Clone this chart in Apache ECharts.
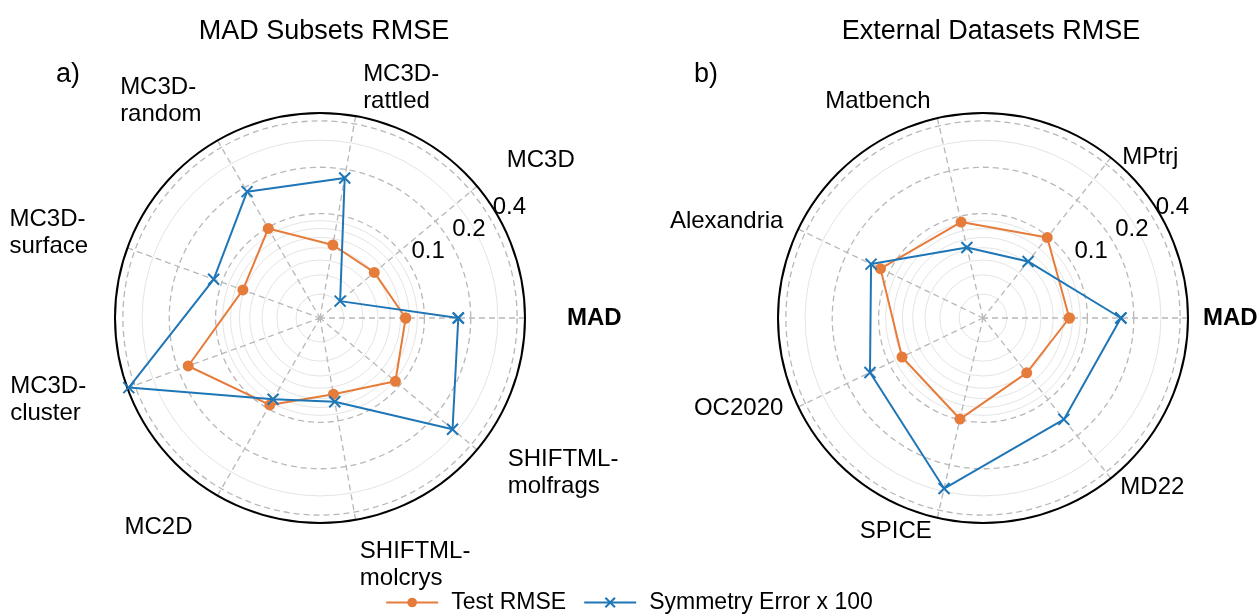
<!DOCTYPE html>
<html><head><meta charset="utf-8">
<script src="https://cdn.jsdelivr.net/npm/echarts@6/dist/echarts.min.js"></script>
<style>html,body{margin:0;padding:0;background:#fff}#c{width:1258px;height:616px}</style>
</head><body><div id="c"></div>
<script>
// ---------- data ----------
const catsA = ['MAD', 'MC3D', 'MC3D-rattled', 'MC3D-random', 'MC3D-surface', 'MC3D-cluster', 'MC2D', 'SHIFTML-molcrys', 'SHIFTML-molfrags'];
const rmseA = [0.0756, 0.0606, 0.0636, 0.0985, 0.0716, 0.171, 0.0942, 0.0668, 0.0915];
const symA  = [0.166, 0.0311, 0.176, 0.186, 0.114, 0.44, 0.0853, 0.0748, 0.279];
const catsB = ['MAD', 'MPtrj', 'Matbench', 'Alexandria', 'OC2020', 'SPICE', 'MD22'];
const rmseB = [0.0763, 0.098, 0.0915, 0.115, 0.0805, 0.0989, 0.0599];
const symB  = [0.165, 0.0619, 0.0619, 0.1345, 0.137, 0.287, 0.146];
const majorTicks = [0.1, 0.2, 0.4];
const minorTicks = [0.03, 0.04, 0.05, 0.06, 0.07, 0.08, 0.09, 0.3];
const seriesNames = ['Test RMSE', 'Symmetry Error x 100'];
const titles = ['MAD Subsets RMSE', 'External Datasets RMSE'];
const panelLetters = ['a)', 'b)'];

// ---------- layout / style ----------
const FONT = 'Liberation Sans';
const ORANGE = '#e67c3b';
const BLUE = '#1f76b6';
const GRID = '#b8b8b8';
const MINOR = '#e4e4e4';
const VMIN = 0.021, VMAX = 0.45;
const CY = 318, R = 205;
const FS = 24;
// category label paddings [top, right, bottom, left]
const padsA = [[0,0,0,62],[0,0,25,45],[0,0,21,98],[0,26,30,0],[0,58,-5,0],[-8,60,0,0],[36,35,0,0],[38,0,0,126],[9,0,0,46]];
const padsB = [[0,0,0,35],[0,0,2,24],[0,128,23,0],[0,33,3,0],[-3,33,0,0],[20,92,0,0],[11,0,0,22]];

const polar = [], angleAxis = [], radiusAxis = [], series = [], title = [];

function catFormatter(v) {
  if (v === 'MAD') return '{b|MAD}';
  const k = v.indexOf('-');
  if (k >= 0) return '{l|' + v.slice(0, k + 1) + '}\n{l|' + v.slice(k + 1) + '}';
  return '{l|' + v + '}';
}
const rich = {
  l: { fontSize: FS, lineHeight: 27, align: 'left', color: '#000', fontFamily: FONT },
  b: { fontSize: FS, lineHeight: 27, fontWeight: 'bold', color: '#000', fontFamily: FONT }
};
const logRadius = (extra) => Object.assign({ type: 'log', logBase: 10, min: VMIN, max: VMAX,
  axisLine: { show: false }, axisTick: { show: false }, axisLabel: { show: false }, splitLine: { show: false } }, extra);

function addChart(k, cx, cats, pads, rmse, sym) {
  const base = k * 4;
  const n = cats.length, step = 360 / n;
  // 0: grid (radial lines, outer circle, major rings)
  polar.push({ center: [cx, CY], radius: [0, R] });
  angleAxis.push({
    polarIndex: base, type: 'value', min: 0, max: 360, interval: step, startAngle: 0, clockwise: false,
    axisLine: { show: true, lineStyle: { color: '#000', width: 2 } },
    axisTick: { show: false }, axisLabel: { show: false },
    splitLine: { show: true, lineStyle: { color: GRID, type: [6, 4], width: 1.3 } }
  });
  radiusAxis.push(logRadius({ polarIndex: base, axisTick: { show: false, customValues: majorTicks },
    splitLine: { show: true, lineStyle: { color: GRID, type: [6, 4], width: 1.3 } } }));
  // 1: minor rings
  polar.push({ center: [cx, CY], radius: [0, R] });
  angleAxis.push({ polarIndex: base + 1, type: 'value', min: 0, max: 360, startAngle: 0, show: false });
  radiusAxis.push(logRadius({ polarIndex: base + 1, axisTick: { show: false, customValues: minorTicks },
    splitLine: { show: true, lineStyle: { color: MINOR, width: 1 } } }));
  // 2: radial tick labels
  polar.push({ center: [cx, CY], radius: [37, R + 37] });
  angleAxis.push({ polarIndex: base + 2, type: 'value', min: 0, max: 360, startAngle: 28.8, show: false });
  radiusAxis.push(logRadius({ polarIndex: base + 2,
    axisLabel: { show: true, customValues: majorTicks, margin: -2, color: '#000', fontSize: FS, fontFamily: FONT, formatter: v => String(v) } }));
  // 3: categories + data
  polar.push({ center: [cx, CY], radius: [0, R] });
  angleAxis.push({
    polarIndex: base + 3, type: 'category', boundaryGap: true, startAngle: -step / 2, clockwise: false,
    data: cats.map((c, i) => ({ value: c, textStyle: { padding: pads[i] } })),
    axisLine: { show: false }, axisTick: { show: false }, splitLine: { show: false },
    axisLabel: { interval: 0, margin: -20, color: '#000', fontSize: FS, fontFamily: FONT, formatter: catFormatter, rich: rich }
  });
  radiusAxis.push(logRadius({ polarIndex: base + 3 }));

  const closed = vals => vals.map((v, i) => [v, i]).concat([[vals[0], vals.length]]);
  series.push({
    name: seriesNames[0], type: 'line', coordinateSystem: 'polar', polarIndex: base + 3, clip: false,
    data: closed(rmse), symbol: 'circle', symbolSize: 11, showAllSymbol: true,
    lineStyle: { color: ORANGE, width: 2 }, itemStyle: { color: ORANGE }, z: 3
  });
  series.push({
    name: seriesNames[1], type: 'line', coordinateSystem: 'polar', polarIndex: base + 3, clip: false,
    data: closed(sym), symbol: 'path://M0,0L10,10M10,0L0,10', symbolSize: 11, showAllSymbol: true,
    lineStyle: { color: BLUE, width: 2 }, itemStyle: { color: BLUE, borderColor: BLUE, borderWidth: 2 }, z: 4
  });

  title.push({ text: titles[k], left: k === 0 ? 319 : 986, top: 13, textAlign: 'center',
    textStyle: { fontSize: 27, fontWeight: 'normal', color: '#000', fontFamily: FONT } });
  title.push({ text: panelLetters[k], left: k === 0 ? 51 : 689, top: 56,
    textStyle: { fontSize: 27, fontWeight: 'normal', color: '#000', fontFamily: FONT } });
}

addChart(0, 320, catsA, padsA, rmseA, symA);
addChart(1, 983, catsB, padsB, rmseB, symB);

const chart = echarts.init(document.getElementById('c'));
chart.setOption({
  animation: false,
  backgroundColor: '#fff',
  textStyle: { fontFamily: FONT },
  title: title,
  polar: polar,
  angleAxis: angleAxis,
  radiusAxis: radiusAxis,
  legend: {
    data: seriesNames, left: 'center', top: 586, itemWidth: 52, itemHeight: 12, itemGap: 17,
    textStyle: { fontSize: 23, color: '#000', fontFamily: FONT, padding: [0, 0, 0, 8] }
  },
  series: series
});
</script></body></html>
